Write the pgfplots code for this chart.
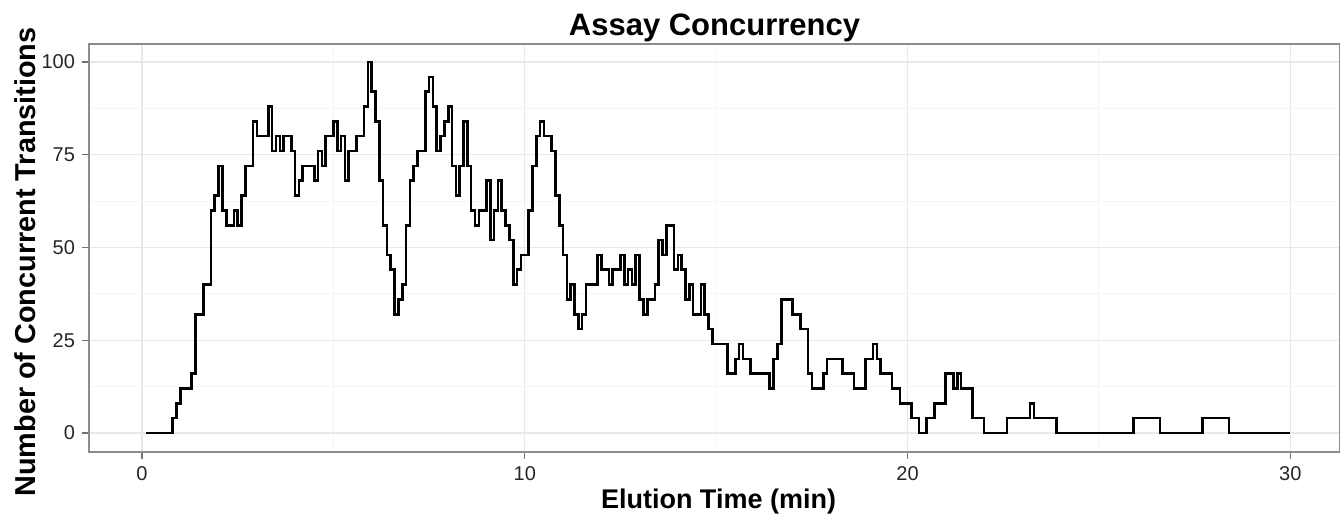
\documentclass[border=0pt]{standalone}
\usepackage{pgfplots}
\pgfplotsset{compat=1.18}
\usepackage{fontspec}
\setmainfont{Liberation Sans}
\begin{document}
\begin{tikzpicture}[x=1pt,y=1pt]
\useasboundingbox (0,0) rectangle (670,258);
\begin{axis}[
  at={(44.5pt,32pt)}, anchor=south west,
  scale only axis, width=625.5pt, height=204pt,
  xmin=-1.385, xmax=31.3, ymin=-5.12, ymax=104.85,
  xtick={0,10,20,30}, ytick={0,25,50,75,100},
  minor xtick={5,15,25}, minor ytick={12.5,37.5,62.5,87.5},
  grid=both,
  major grid style={color=black!9, line width=0.6pt},
  minor grid style={color=black!4, line width=0.6pt},
  tick pos=left, tick align=outside,
  major tick length=3.5pt, minor tick length=0pt,
  tick style={color=black!55, line width=0.6pt},
  axis line style={color=black!45, line width=0.7pt},
  /pgf/number format/assume math mode=true,
  ticklabel style={font=\fontsize{10}{12}\selectfont, color=black!85},
  title={Assay Concurrency},
  title style={font=\fontsize{15.5}{18}\selectfont\bfseries, at={(0.5,1)}, anchor=base, yshift=-1.5pt},
  xlabel={Elution Time (min)},
  ylabel={Number of Concurrent Transitions},
  xlabel style={font=\fontsize{13.5}{16}\selectfont\bfseries, yshift=2.5pt, xshift=2pt},
  ylabel style={font=\fontsize{14.4}{17}\selectfont\bfseries, yshift=-4pt, xshift=-7pt},
]
\addplot[const plot, black, line width=1.3pt] coordinates {
(0.1,0) (0.8,4) (0.9,8) (1.0,12) (1.3,16) (1.4,32) (1.6,40) (1.8,60) (1.9,64) (2.0,72)
(2.1,60) (2.2,56) (2.4,60) (2.5,56) (2.6,64) (2.7,72) (2.9,84) (3.0,80) (3.3,88) (3.4,76)
(3.5,80) (3.6,76) (3.7,80) (3.9,76) (4.0,64) (4.1,68) (4.2,72) (4.5,68) (4.6,76) (4.7,72)
(4.8,80) (5.0,84) (5.1,76) (5.2,80) (5.3,68) (5.4,76) (5.6,80) (5.8,88) (5.9,100) (6.0,92)
(6.1,84) (6.2,68) (6.3,56) (6.4,48) (6.5,44) (6.6,32) (6.7,36) (6.8,40) (6.9,56) (7.0,68)
(7.1,72) (7.2,76) (7.4,92) (7.5,96) (7.6,88) (7.7,76) (7.8,80) (7.9,84) (8.0,88) (8.1,72)
(8.2,64) (8.3,72) (8.4,84) (8.5,72) (8.6,60) (8.7,56) (8.8,60) (9.0,68) (9.1,52) (9.2,60)
(9.3,68) (9.4,60) (9.5,56) (9.6,52) (9.7,40) (9.8,44) (9.9,48) (10.1,60) (10.2,72) (10.3,80)
(10.4,84) (10.5,80) (10.7,76) (10.8,64) (10.9,56) (11.0,48) (11.1,36) (11.2,40) (11.3,32) (11.4,28)
(11.5,32) (11.6,40) (11.9,48) (12.0,44) (12.2,40) (12.3,44) (12.5,48) (12.6,40) (12.7,44) (12.8,40)
(12.9,48) (13.0,36) (13.1,32) (13.2,36) (13.4,40) (13.5,52) (13.6,48) (13.7,56) (13.9,44) (14.0,48)
(14.1,44) (14.2,36) (14.3,40) (14.4,32) (14.6,40) (14.7,32) (14.8,28) (14.9,24) (15.3,16) (15.5,20)
(15.6,24) (15.7,20) (15.9,16) (16.4,12) (16.5,20) (16.6,24) (16.7,36) (17.0,32) (17.2,28) (17.4,16)
(17.5,12) (17.8,16) (17.9,20) (18.3,16) (18.6,12) (18.9,20) (19.1,24) (19.2,20) (19.3,16) (19.6,12)
(19.8,8) (20.1,4) (20.3,0) (20.5,4) (20.7,8) (21.0,16) (21.2,12) (21.3,16) (21.4,12) (21.7,4)
(22.0,0) (22.6,4) (23.2,8) (23.3,4) (23.9,0) (25.9,4) (26.6,0) (27.7,4) (28.4,0) (30.0,0)
};
\end{axis}
\end{tikzpicture}
\end{document}
